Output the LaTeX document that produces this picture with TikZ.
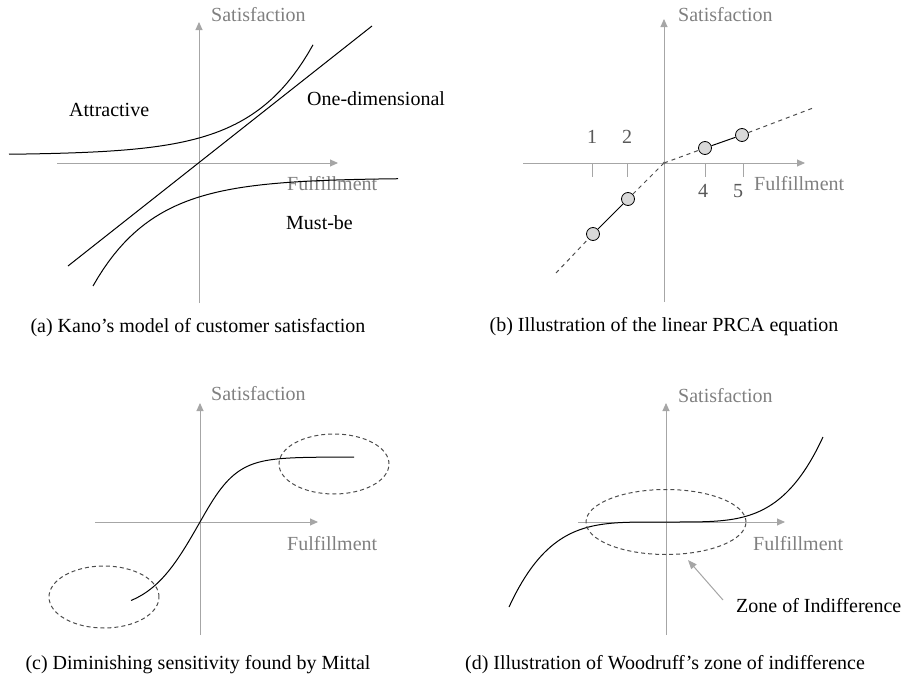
\documentclass[tikz,border=0pt]{standalone}
\usepackage{fontspec}
\setmainfont{Liberation Serif}
\usetikzlibrary{arrows.meta,positioning}
\definecolor{axisgray}{HTML}{A6A6A6}
\definecolor{labelgray}{HTML}{808080}
\definecolor{numgray}{HTML}{595959}
\definecolor{dotfill}{HTML}{D9D9D9}

\begin{document}
\begin{tikzpicture}[x=1pt,y=1pt,>=latex,
                    every node/.style={font=\fontsize{20}{23}\selectfont, inner sep=0pt},
                    axis/.style={draw=axisgray, line width=0.9pt, -{Triangle[length=8pt,width=7pt]}},
                    axlabel/.style={text=labelgray, anchor=west},
                    tag/.style={anchor=west},
                    curve/.style={line width=1pt},
                    zone/.style={draw=black!70, dash pattern=on 4pt off 3pt, line width=1pt},
                    guide/.style={draw=black!70, dash pattern=on 4pt off 4pt, line width=1pt},
                    dot/.style={circle, draw, fill=dotfill, line width=0.8pt, minimum size=13pt}]
\useasboundingbox (0,0) rectangle (903,-680);

% (a) Kano
\begin{scope}[shift={(199,-163)}]
\draw[axis] (0,-140) -- (0,141);
\draw[axis] (-142,0) -- (139,0);
\node[axlabel] (asat) at (12,148) {Satisfaction};
\node[axlabel] (aful) at (88,-21) {Fulfillment};
\draw[curve] (-131,-103) -- (173,137);
\draw[curve] plot[domain=-190:114, samples=60] (\x,{8+17*exp(\x/61)});
\draw[curve] plot[domain=-106:199, samples=60] (\x,{-15-19*exp(-\x/61)});
\node[tag] (attr) at (-130,53) {Attractive};
\node[tag] (onedim) at (108,64) {One-dimensional};
\node[tag] (must) at (87,-60) {Must-be};
\end{scope}
\node (capa) at (198,-328) {(a) Kano’s model of customer satisfaction};

% (b) PRCA
\begin{scope}[shift={(664,-163)}]
\draw[axis] (0,-139) -- (0,144);
\draw[axis] (-141,0) -- (141,0);
\foreach \t in {-72,-37,41,79}
  \draw[axisgray, line width=0.9pt] (\t,0) -- (\t,-14);
\node[text=numgray] (n1) at (-72,26) {1};
\node[text=numgray] (n2) at (-37,26) {2};
\node[text=numgray] (n4) at (39,-28) {4};
\node[text=numgray] (n5) at (74,-28) {5};
\node[axlabel] (bsat) at (14,148) {Satisfaction};
\node[axlabel] (bful) at (90,-21) {Fulfillment};
\coordinate (bo) at (0,0);
\coordinate (blow) at (-108,-110);
\coordinate (bhigh) at (149,55);
\node[dot] (d1) at (-71,-71) {};
\node[dot] (d2) at (-36,-36) {};
\node[dot] (d4) at (41,15) {};
\node[dot] (d5) at (78,28) {};
\draw[guide] (blow) -- (d1);
\draw[guide] (d2) -- (bo);
\draw[guide] (bo) -- (d4);
\draw[guide] (d5) -- (bhigh);
\draw[line width=1pt] (d1) -- (d2);
\draw[line width=1pt] (d4) -- (d5);
\fill[black!60] (bo) circle (1.5pt);
\end{scope}
\node (capb) at (664,-327) {(b) Illustration of the linear PRCA equation};

% (c) Mittal
\begin{scope}[shift={(200,-522)}]
\draw[axis] (0,-113) -- (0,119);
\draw[axis] (-105,0) -- (118,0);
\node[axlabel] (csat) at (11,128) {Satisfaction};
\node[axlabel] (cful) at (87,-22) {Fulfillment};
\draw[curve] plot[domain=-69:0, samples=40] (\x,{90*tanh(\x/51.4)})
          -- plot[domain=0:154, samples=60] (\x,{65*tanh(\x/37)});
\draw[zone] (134,58) ellipse [x radius=55pt, y radius=30pt];
\draw[zone] (-96,-75) ellipse [x radius=55pt, y radius=31pt];
\end{scope}
\node (capc) at (198,-665) {(c) Diminishing sensitivity found by Mittal};

% (d) Woodruff
\begin{scope}[shift={(666,-522)}]
\draw[axis] (0,-113) -- (0,119);
\draw[axis] (-88,0) -- (119,0);
\node[axlabel] (dsat) at (12,126) {Satisfaction};
\node[axlabel] (dful) at (87,-22) {Fulfillment};
\draw[curve] plot[domain=-157:0, samples=50] (\x,{-85*(-\x/157)^4})
          -- plot[domain=0:157, samples=50] (\x,{85*(\x/157)^4});
\draw[zone] (0,0) ellipse [x radius=80pt, y radius=32.5pt];
\node[tag] (zonetxt) at (70,-84) {Zone of Indifference};
\coordinate (ztail) at (57,-78);
\coordinate (ztip) at (22,-38);
\draw[axisgray, line width=1pt, -{Triangle[length=9pt,width=7pt]}] (ztail) -- (ztip);
\end{scope}
\node (capd) at (665,-665) {(d) Illustration of Woodruff’s zone of indifference};
\end{tikzpicture}
\end{document}
